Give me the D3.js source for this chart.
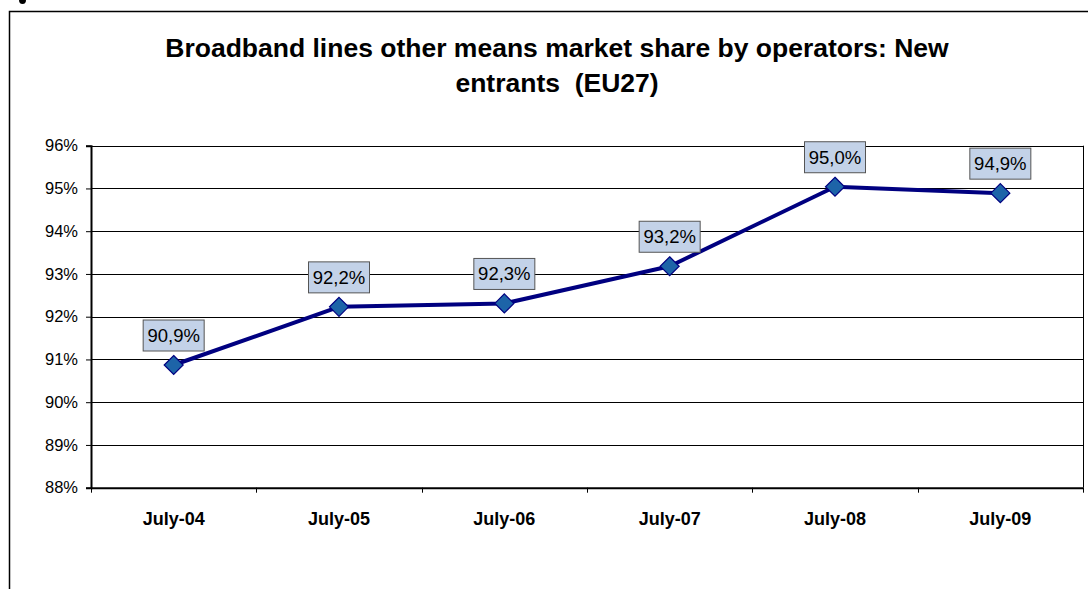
<!DOCTYPE html>
<html><head><meta charset="utf-8">
<script src="https://cdn.jsdelivr.net/npm/d3@7"></script>
<style>html,body{margin:0;padding:0;background:#fff;overflow:hidden}svg{display:block}</style>
</head><body>
<svg id="c" width="1088" height="589"></svg>
<script>
const categories = ["July-04","July-05","July-06","July-07","July-08","July-09"];
const values = [90.87, 92.23, 92.31, 93.18, 95.04, 94.89];
const valueLabels = ["90,9%","92,2%","92,3%","93,2%","95,0%","94,9%"];
const yTicks = [88,89,90,91,92,93,94,95,96];
const titleLines = ["Broadband lines other means market share by operators: New","entrants  (EU27)"];

const svg = d3.select("#c");
const M = {left:91, right:1083, top:145.7, bottom:487.7};

// outer frame
svg.append("path").attr("d","M9.5,600 V11.5 H1100").attr("fill","none").attr("stroke","#000").attr("stroke-width",1.5);
// stray mark at top-left (tail of a glyph from above the frame)
svg.append("path").attr("d","M19,0 Q19,4 22.5,4 Q26,4 26,0 Z").attr("fill","#000");

// title
const title = svg.append("text").attr("text-anchor","middle").attr("font-family","Liberation Sans, Arial, sans-serif").attr("font-weight","bold").attr("font-size",26.5).attr("fill","#000");
titleLines.forEach((t,i)=>title.append("tspan").attr("x",557).attr("y",57+i*35).attr("xml:space","preserve").text(t));

const x = d3.scaleBand().domain(categories).range([M.left,M.right]);
const y = d3.scaleLinear().domain([88,96]).range([M.bottom,M.top]);

// gridlines
svg.append("g").selectAll("line").data(yTicks).join("line")
  .attr("x1",M.left).attr("x2",M.right).attr("y1",d=>Math.round(y(d))+0.5).attr("y2",d=>Math.round(y(d))+0.5)
  .attr("stroke","#000").attr("stroke-width",1);
// right border
svg.append("line").attr("x1",M.right+0.5).attr("x2",M.right+0.5).attr("y1",M.top).attr("y2",M.bottom).attr("stroke","#000").attr("stroke-width",1);

// y axis
const yAxis = d3.axisLeft(y).tickValues(yTicks).tickFormat(d=>d+"%").tickSize(5).tickPadding(8);
const gy = svg.append("g").attr("transform",`translate(${M.left},0)`).call(yAxis);
gy.select(".domain").attr("stroke","#000").attr("stroke-width",2);
gy.selectAll(".tick line").attr("stroke","#000");
gy.selectAll(".tick text").attr("font-family","Liberation Sans, Arial, sans-serif").attr("font-size",16.5).attr("fill","#000");

// x axis
const xAxis = d3.axisBottom(x).tickSize(0).tickPadding(0);
const gx = svg.append("g").attr("transform",`translate(0,${M.bottom})`).call(xAxis);
gx.select(".domain").attr("stroke","#000").attr("stroke-width",2);
gx.selectAll(".tick text").attr("font-family","Liberation Sans, Arial, sans-serif").attr("font-weight","bold").attr("font-size",18).attr("fill","#000").attr("dy",null).attr("y",37);
// boundary ticks
const bounds = categories.map(c=>x(c)).concat([x(categories[categories.length-1])+x.bandwidth()]);
svg.append("g").selectAll("line").data(bounds).join("line")
  .attr("x1",d=>Math.round(d)+0.5).attr("x2",d=>Math.round(d)+0.5).attr("y1",M.bottom).attr("y2",M.bottom+5)
  .attr("stroke","#000");

const cx = c=>x(c)+x.bandwidth()/2;
// line
svg.append("path").datum(values)
  .attr("d",d3.line().x((d,i)=>cx(categories[i])).y(d=>y(d)))
  .attr("fill","none").attr("stroke","#000080").attr("stroke-width",4).attr("stroke-linejoin","round");
// markers
svg.append("g").selectAll("path").data(values).join("path")
  .attr("transform",(d,i)=>`translate(${cx(categories[i])},${y(d)})`)
  .attr("d","M0,-9.5 L9.5,0 L0,9.5 L-9.5,0 Z")
  .attr("fill","#1d64a8").attr("stroke","#000080").attr("stroke-width",1.2);

// labels
const lg = svg.append("g").selectAll("g").data(values).join("g")
  .attr("transform",(d,i)=>`translate(${cx(categories[i])},${y(d)-14})`);
lg.append("rect").attr("x",-30.5).attr("y",-31).attr("width",61).attr("height",31)
  .attr("fill","#c3d2e8").attr("stroke","#555").attr("stroke-width",1);
lg.append("text").attr("text-anchor","middle").attr("y",-9).attr("font-family","Liberation Sans, Arial, sans-serif").attr("font-size",18.5).attr("fill","#000")
  .text((d,i)=>valueLabels[i]);
</script>
</body></html>
